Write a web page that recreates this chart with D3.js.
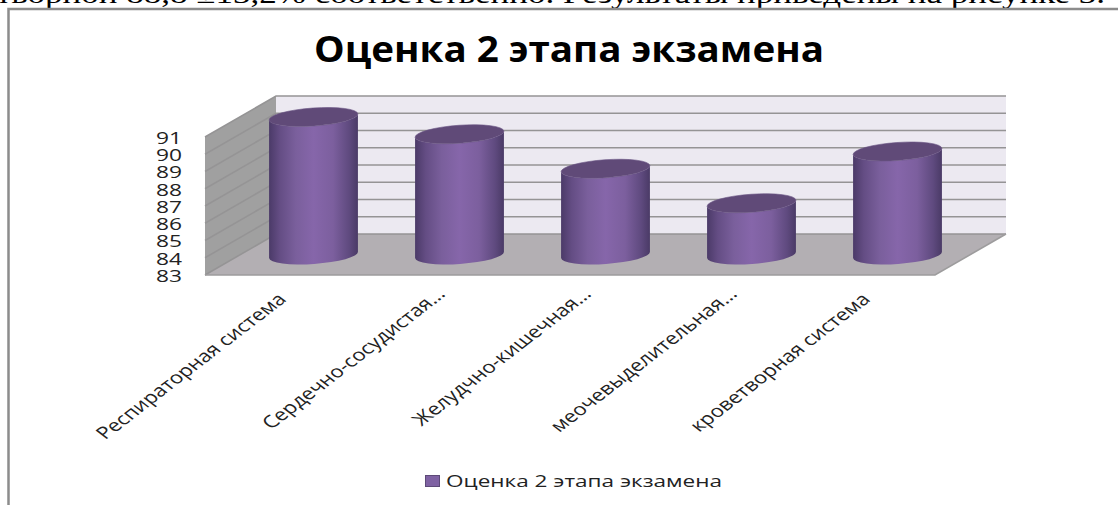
<!DOCTYPE html>
<html>
<head>
<meta charset="utf-8">
<script src="https://cdn.jsdelivr.net/npm/d3@7"></script>
<style>
  html, body { margin: 0; padding: 0; background: #fff; overflow: hidden; }
  svg { display: block; }
</style>
</head>
<body>
<script>
const categories = [
  'Респираторная система',
  'Сердечно-сосудистая...',
  'Желудчно-кишечная...',
  'меочевыделительная...',
  'кроветворная система'
];
const values = [91, 90, 88, 86, 89];
const yTicks = [83, 84, 85, 86, 87, 88, 89, 90, 91];
const titleText = 'Оценка 2 этапа экзамена';
const seriesName = 'Оценка 2 этапа экзамена';
const bodyLine = 'творной 88,8 ±13,2% соответственно. Результаты приведены на рисунке 3.';

const width = 1118,
  height = 505,
  depthX = 71,
  depthY = -41,
  tilt = -4;

const svg = d3.select('body').append('svg')
  .attr('width', width)
  .attr('height', height);

// scales are for the front plane, the walls are shifted back by depthX/depthY
const x = d3.scaleBand().domain(categories).range([205, 935]);
const y = d3.scaleLinear().domain([83, 91]).range([275, 137]);

const defs = svg.append('defs');
const grad = defs.append('linearGradient').attr('id', 'cyl');
[[0, '#4b3a68'], [0.12, '#644d84'], [0.3, '#7a5f9c'], [0.5, '#8666aa'], [0.72, '#7c5f9e'], [0.9, '#5f4a7f'], [1, '#4a3a66']]
  .forEach(s => grad.append('stop').attr('offset', s[0]).attr('stop-color', s[1]));

// line of the document text, cut by the top of the picture and by the frame
svg.append('text')
  .attr('x', -4)
  .attr('y', 3)
  .attr('textLength', 1109)
  .attr('lengthAdjust', 'spacingAndGlyphs')
  .style('font-family', "'Liberation Serif', serif")
  .style('font-size', '27px')
  .text(bodyLine);

// chart frame
svg.append('rect')
  .attr('x', 8.5)
  .attr('y', 9)
  .attr('width', width + 20)
  .attr('height', height + 20)
  .attr('fill', '#fff')
  .attr('stroke', '#8c8c8c')
  .attr('stroke-width', 2.5);

svg.append('text')
  .attr('x', 314)
  .attr('y', 62)
  .attr('textLength', 510)
  .attr('lengthAdjust', 'spacingAndGlyphs')
  .style('font-family', "'Open Sans', sans-serif")
  .style('font-weight', 700)
  .style('font-size', '35px')
  .text(titleText);

const [x0, x1] = x.range();
const yBottom = y(83), yTop = y(91);

// walls and floor
svg.append('path')
  .attr('fill', '#a0a0a0')
  .attr('d', `M${x0},${yBottom}L${x0},${yTop}L${x0 + depthX},${yTop + depthY}L${x0 + depthX},${yBottom + depthY}Z`);
svg.append('rect')
  .attr('x', x0 + depthX)
  .attr('y', yTop + depthY)
  .attr('width', x1 - x0)
  .attr('height', yBottom - yTop)
  .attr('fill', '#ece9f1');
svg.append('path')
  .attr('fill', '#b3afb3')
  .attr('d', `M${x0},${yBottom}L${x1},${yBottom}L${x1 + depthX},${yBottom + depthY}L${x0 + depthX},${yBottom + depthY}Z`);

// gridlines along side wall and back wall
svg.append('g')
  .selectAll('path')
  .data(yTicks)
  .join('path')
  .attr('fill', 'none')
  .attr('stroke', '#959495')
  .attr('stroke-width', 1.6)
  .attr('d', d => `M${x0},${y(d)}L${x0 + depthX},${y(d) + depthY}L${x1 + depthX},${y(d) + depthY}`);
svg.append('path')
  .attr('fill', 'none')
  .attr('stroke', '#9d9c9d')
  .attr('stroke-width', 1.6)
  .attr('d', `M${x0},${yBottom}L${x1},${yBottom}L${x1 + depthX},${yBottom + depthY}`);

// cylinders stand in the middle of the floor depth
const rx = x.bandwidth() * 0.305,
  ry = 9,
  cos = Math.cos(tilt * Math.PI / 180),
  sin = Math.sin(tilt * Math.PI / 180);

const bars = svg.append('g')
  .selectAll('g')
  .data(categories.map((c, i) => ({ name: c, value: values[i] })))
  .join('g')
  .attr('transform', d => `translate(${x(d.name) + x.bandwidth() / 2 + depthX / 2},${depthY / 2 + 0.5})`);

bars.append('path')
  .attr('fill', 'url(#cyl)')
  .attr('d', d => {
    const top = y(d.value), base = y(83);
    const lx = -rx * cos, ly = -rx * sin;
    const rxp = rx * cos, ryp = rx * sin;
    return `M${lx},${top + ly}L${lx},${base + ly}` +
      `A${rx},${ry} ${tilt} 0 0 ${rxp},${base + ryp}` +
      `L${rxp},${top + ryp}` +
      `A${rx},${ry} ${tilt} 0 1 ${lx},${top + ly}Z`;
  });

bars.append('ellipse')
  .attr('rx', rx)
  .attr('ry', ry)
  .attr('fill', '#604a78')
  .attr('stroke', '#6a5484')
  .attr('stroke-width', 0.6)
  .attr('transform', d => `translate(0,${y(d.value)}) rotate(${tilt})`);

// value axis
const axisY = svg.append('g')
  .attr('transform', 'translate(182,1)')
  .call(d3.axisLeft(y).tickValues(yTicks).tickSize(0).tickPadding(0));
axisY.select('.domain').remove();
axisY.selectAll('text')
  .attr('textLength', 26)
  .attr('lengthAdjust', 'spacingAndGlyphs')
  .style('font-family', "'Open Sans', sans-serif")
  .style('font-size', '16.5px')
  .style('fill', '#222');

// category labels are slanted in a picture that was stretched sideways
svg.append('g')
  .selectAll('text')
  .data(categories)
  .join('text')
  .attr('transform', d => {
    const px = x(d) + x.bandwidth() / 2 + (d.endsWith('...') ? 17 : 4);
    return `translate(${px},${d.endsWith('...') ? 291 : 296}) scale(1.3,1) rotate(-45)`;
  })
  .attr('text-anchor', 'end')
  .attr('dy', '0.35em')
  .style('font-family', "'Open Sans', sans-serif")
  .style('font-size', '17px')
  .style('fill', '#222')
  .text(d => d);

// legend
svg.append('rect')
  .attr('x', 425.5)
  .attr('y', 475.5)
  .attr('width', 14)
  .attr('height', 11)
  .attr('fill', '#7f62a3')
  .attr('stroke', '#5d4a78');
svg.append('text')
  .attr('x', 446)
  .attr('y', 487)
  .attr('textLength', 276)
  .attr('lengthAdjust', 'spacingAndGlyphs')
  .style('font-family', "'Open Sans', sans-serif")
  .style('font-size', '17px')
  .style('fill', '#222')
  .text(seriesName);
</script>
</body>
</html>
